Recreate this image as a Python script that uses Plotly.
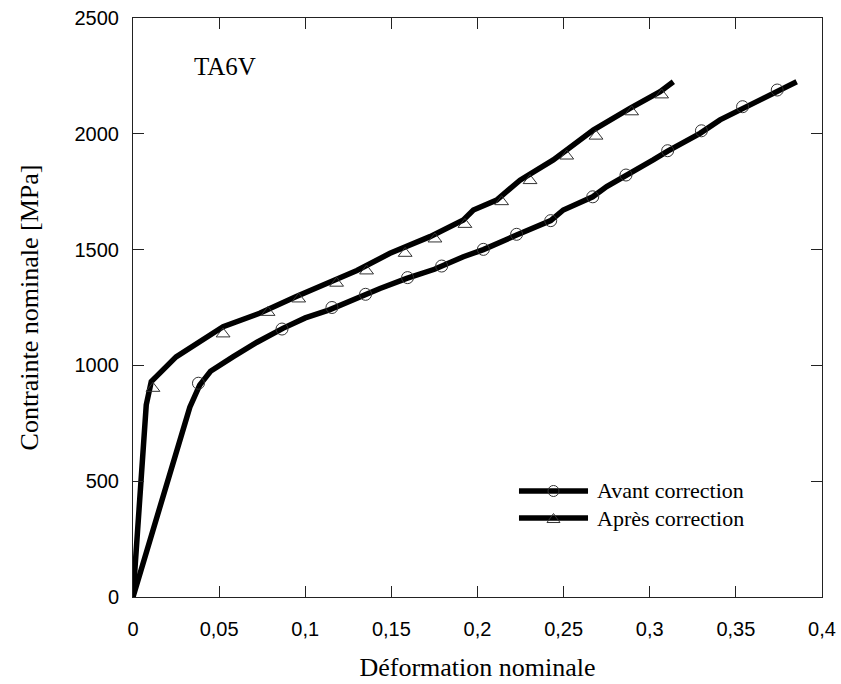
import plotly.graph_objects as go

# Stress-strain curves for TA6V: nominal strain vs nominal stress [MPa]
avant_x = [0, 0.033, 0.0387, 0.045, 0.058, 0.072, 0.087, 0.1, 0.114, 0.128,
           0.1434, 0.1589, 0.175, 0.1918, 0.2034, 0.2227, 0.2305, 0.2425,
           0.2498, 0.2669, 0.275, 0.2862, 0.302, 0.3104, 0.3292, 0.3408,
           0.3543, 0.374, 0.3853]
avant_y = [0, 820, 915, 975, 1037, 1100, 1160, 1205, 1240, 1285,
           1332, 1376, 1415, 1469, 1500, 1563, 1585, 1625,
           1671, 1728, 1772, 1818, 1887, 1925, 2002, 2060,
           2110, 2185, 2225]

apres_x = [0, 0.0077, 0.0106, 0.025, 0.0523, 0.0735, 0.0948, 0.114, 0.130,
           0.1492, 0.1724, 0.1918, 0.1976, 0.2111, 0.2247, 0.244, 0.2672,
           0.2885, 0.306, 0.3137]
apres_y = [0, 830, 930, 1037, 1167, 1225, 1297, 1361, 1410,
           1484, 1556, 1628, 1671, 1714, 1800, 1887, 2016,
           2110, 2182, 2225]

# Sampled points shown with symbols
avant_mx = [0.038, 0.0865, 0.1155, 0.135, 0.1594, 0.1792, 0.2034, 0.2227,
            0.2425, 0.2669, 0.2862, 0.3104, 0.330, 0.3539, 0.374]
avant_my = [923, 1157, 1250, 1307, 1379, 1429, 1501, 1566,
            1625, 1728, 1822, 1927, 2013, 2117, 2189]

apres_mx = [0.0116, 0.0523, 0.0784, 0.0962, 0.1182, 0.1356, 0.158, 0.1753,
            0.1927, 0.214, 0.2305, 0.2518, 0.2688, 0.2895, 0.3069]
apres_my = [901, 1136, 1229, 1287, 1355, 1408, 1484, 1546,
            1609, 1707, 1798, 1904, 1990, 2095, 2168]

series_names = ["Avant correction", "Après correction"]

x_ticks = [0, 0.05, 0.1, 0.15, 0.2, 0.25, 0.3, 0.35, 0.4]
x_ticktext = ["0", "0,05", "0,1", "0,15", "0,2", "0,25", "0,3", "0,35", "0,4"]
y_ticks = [0, 500, 1000, 1500, 2000, 2500]
y_ticktext = ["0", "500", "1000", "1500", "2000", "2500"]

SERIF = "Liberation Serif, Times New Roman, serif"
SANS = "Liberation Sans, Arial, sans-serif"
LINE_W = 5.5
MARK_COL = "#333333"

fig = go.Figure()

for xs, ys in [(avant_x, avant_y), (apres_x, apres_y)]:
    fig.add_trace(go.Scatter(x=xs, y=ys, mode="lines",
                             line=dict(color="black", width=LINE_W),
                             showlegend=False, hoverinfo="skip"))

fig.add_trace(go.Scatter(x=avant_mx, y=avant_my, mode="markers",
                         marker=dict(symbol="circle-open", size=12,
                                     color=MARK_COL, line=dict(width=1)),
                         showlegend=False))
fig.add_trace(go.Scatter(x=apres_mx, y=apres_my, mode="markers",
                         marker=dict(symbol="triangle-up-open", size=12,
                                     color=MARK_COL, line=dict(width=1)),
                         showlegend=False))

axis_common = dict(
    showgrid=False, zeroline=False, showline=True, linecolor="#222222",
    linewidth=1, mirror="ticks", ticks="inside", ticklen=11,
    tickcolor="#222222", tickwidth=1, automargin=False,
    tickfont=dict(family=SANS, size=20, color="black"),
)

fig.update_xaxes(range=[0, 0.4], tickvals=x_ticks, ticktext=x_ticktext,
                 title=dict(text="Déformation nominale",
                            font=dict(family=SERIF, size=26, color="black"),
                            standoff=18),
                 ticklabelstandoff=14, **axis_common)
fig.update_yaxes(range=[0, 2500], tickvals=y_ticks, ticktext=y_ticktext,
                 title=dict(text="Contrainte nominale [MPa]",
                            font=dict(family=SERIF, size=26, color="black"),
                            standoff=28),
                 ticklabelstandoff=9, **axis_common)

# Hand-placed legend block (long line sample with symbol in the middle)
legend_rows = [(0.1831, "circle"), (0.1364, "triangle")]
lx0, lx1, lxm, ltx = 0.5602, 0.6604, 0.6103, 0.6705
shapes = []
annotations = []
for (ly, sym), name in zip(legend_rows, series_names):
    shapes.append(dict(type="line", xref="paper", yref="paper",
                       x0=lx0, x1=lx1, y0=ly, y1=ly,
                       line=dict(color="black", width=LINE_W)))
    if sym == "circle":
        shapes.append(dict(type="circle", xref="paper", yref="paper",
                           xsizemode="pixel", ysizemode="pixel",
                           xanchor=lxm, yanchor=ly,
                           x0=-5.5, x1=5.5, y0=-5.5, y1=5.5,
                           line=dict(color=MARK_COL, width=1)))
    else:
        shapes.append(dict(type="path", xref="paper", yref="paper",
                           xsizemode="pixel", ysizemode="pixel",
                           xanchor=lxm, yanchor=ly,
                           path="M-6.5,-4.5 L6.5,-4.5 L0,4.5 Z",
                           line=dict(color=MARK_COL, width=1)))
    annotations.append(dict(text=name, xref="paper", yref="paper",
                            x=ltx, y=ly, xanchor="left", yanchor="middle",
                            showarrow=False,
                            font=dict(family=SERIF, size=22, color="black")))

annotations.append(dict(text="TA6V", xref="paper", yref="paper",
                        x=0.0856, y=0.917, xanchor="left", yanchor="middle",
                        showarrow=False,
                        font=dict(family=SERIF, size=25, color="black")))

fig.update_layout(
    width=841, height=684,
    margin=dict(l=133, r=19, t=18, b=87),
    paper_bgcolor="white", plot_bgcolor="white",
    showlegend=False,
    shapes=shapes, annotations=annotations,
)

fig.write_html("out.html")
